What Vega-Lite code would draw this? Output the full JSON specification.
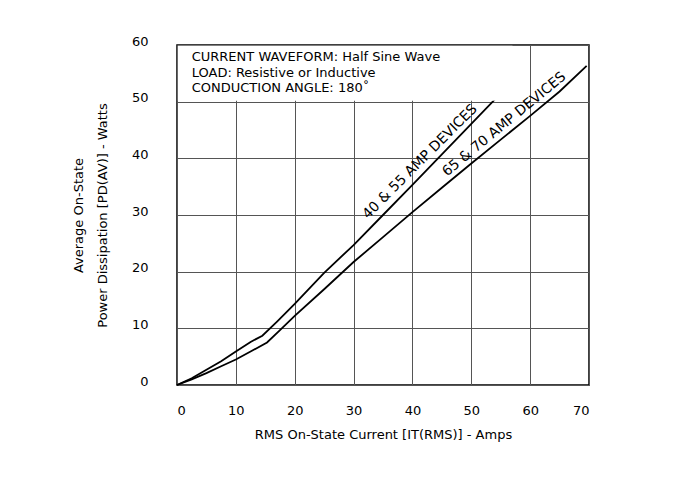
{
  "$schema": "https://vega.github.io/schema/vega-lite/v6.json",
  "autosize": {"type": "none"},
  "width": 412,
  "height": 340,
  "padding": {"left": 177, "top": 45, "right": 84, "bottom": 99},
  "background": "#ffffff",
  "config": {
    "view": {"stroke": "#000000", "strokeWidth": 1.5},
    "font": "DejaVu Sans",
    "axis": {
      "labelFont": "DejaVu Sans", "labelFontSize": 13, "labelColor": "#000000",
      "titleFont": "DejaVu Sans", "titleFontSize": 13, "titleFontWeight": "normal", "titleColor": "#000000",
      "grid": true, "gridColor": "#555555", "gridWidth": 1, "gridOpacity": 1,
      "domain": false, "ticks": false, "tickSize": 0
    }
  },
  "datasets": {
    "curves": [
      {"series": "40 & 55 AMP", "I": 0, "P": 0},
      {"series": "40 & 55 AMP", "I": 2.5, "P": 1.2},
      {"series": "40 & 55 AMP", "I": 5, "P": 2.7},
      {"series": "40 & 55 AMP", "I": 7.5, "P": 4.2},
      {"series": "40 & 55 AMP", "I": 10, "P": 5.9},
      {"series": "40 & 55 AMP", "I": 12.5, "P": 7.6},
      {"series": "40 & 55 AMP", "I": 14.5, "P": 8.7},
      {"series": "40 & 55 AMP", "I": 17, "P": 11.2},
      {"series": "40 & 55 AMP", "I": 20, "P": 14.3},
      {"series": "40 & 55 AMP", "I": 25, "P": 19.8},
      {"series": "40 & 55 AMP", "I": 30, "P": 24.7},
      {"series": "40 & 55 AMP", "I": 35, "P": 30.0},
      {"series": "40 & 55 AMP", "I": 40, "P": 35.3},
      {"series": "40 & 55 AMP", "I": 45, "P": 40.7},
      {"series": "40 & 55 AMP", "I": 50, "P": 46.1},
      {"series": "40 & 55 AMP", "I": 55.2, "P": 51.7},
      {"series": "65 & 70 AMP", "I": 0, "P": 0},
      {"series": "65 & 70 AMP", "I": 2.5, "P": 1.0},
      {"series": "65 & 70 AMP", "I": 5, "P": 2.1},
      {"series": "65 & 70 AMP", "I": 7.5, "P": 3.3},
      {"series": "65 & 70 AMP", "I": 10, "P": 4.5},
      {"series": "65 & 70 AMP", "I": 12.5, "P": 5.9},
      {"series": "65 & 70 AMP", "I": 15.3, "P": 7.5},
      {"series": "65 & 70 AMP", "I": 17.5, "P": 9.7},
      {"series": "65 & 70 AMP", "I": 20, "P": 12.2},
      {"series": "65 & 70 AMP", "I": 25, "P": 16.9},
      {"series": "65 & 70 AMP", "I": 30, "P": 21.7},
      {"series": "65 & 70 AMP", "I": 35, "P": 26.1},
      {"series": "65 & 70 AMP", "I": 40, "P": 30.5},
      {"series": "65 & 70 AMP", "I": 45, "P": 34.8},
      {"series": "65 & 70 AMP", "I": 50, "P": 39.1},
      {"series": "65 & 70 AMP", "I": 55, "P": 43.3},
      {"series": "65 & 70 AMP", "I": 60, "P": 47.5},
      {"series": "65 & 70 AMP", "I": 65, "P": 51.8},
      {"series": "65 & 70 AMP", "I": 69.6, "P": 56.3}
    ],
    "box": [{"x1": 0.15, "x2": 57, "y1": 50.15, "y2": 59.85}],
    "notes": [
      {"text": "CURRENT WAVEFORM: Half Sine Wave", "I": 2.5, "P": 57.8},
      {"text": "LOAD: Resistive or Inductive", "I": 2.5, "P": 55.1},
      {"text": "CONDUCTION ANGLE: 180˚", "I": 2.5, "P": 52.4}
    ],
    "labels": [
      {"text": "40 & 55 AMP DEVICES", "I": 41.3, "P": 39.4, "angle": 315},
      {"text": "65 & 70 AMP DEVICES", "I": 55.6, "P": 46.0, "angle": 320.5}
    ]
  },
  "layer": [
    {
      "data": {"name": "curves"},
      "mark": {"type": "line", "color": "#000000", "strokeWidth": 1.8, "interpolate": "linear"},
      "encoding": {
        "x": {"field": "I", "type": "quantitative",
              "scale": {"domain": [0, 70], "nice": false, "zero": false},
              "axis": {"values": [0, 10, 20, 30, 40, 50, 60, 70], "labelPadding": 19, "title": "RMS On-State Current [IT(RMS)] - Amps", "titlePadding": 11}},
        "y": {"field": "P", "type": "quantitative",
              "scale": {"domain": [0, 60], "nice": false, "zero": false},
              "axis": {"values": [0, 10, 20, 30, 40, 50, 60], "labelPadding": 29, "labelBaseline": "alphabetic",
                       "title": ["Average On-State", "Power Dissipation [PD(AV)] - Watts"], "titlePadding": 22, "titleLineHeight": 24}},
        "detail": {"field": "series", "type": "nominal"}
      }
    },
    {
      "data": {"name": "box"},
      "mark": {"type": "rect", "fill": "#ffffff", "stroke": null},
      "encoding": {
        "x": {"field": "x1", "type": "quantitative"},
        "x2": {"field": "x2"},
        "y": {"field": "y1", "type": "quantitative"},
        "y2": {"field": "y2"}
      }
    },
    {
      "data": {"name": "notes"},
      "mark": {"type": "text", "align": "left", "baseline": "middle", "font": "DejaVu Sans", "fontSize": 13, "color": "#000000"},
      "encoding": {
        "x": {"field": "I", "type": "quantitative"},
        "y": {"field": "P", "type": "quantitative"},
        "text": {"field": "text"}
      }
    },
    {
      "data": {"name": "labels"},
      "mark": {"type": "text", "align": "center", "baseline": "middle", "font": "DejaVu Sans", "fontSize": 14, "color": "#000000"},
      "encoding": {
        "x": {"field": "I", "type": "quantitative"},
        "y": {"field": "P", "type": "quantitative"},
        "angle": {"field": "angle", "type": "quantitative", "scale": null},
        "text": {"field": "text"}
      }
    }
  ]
}
